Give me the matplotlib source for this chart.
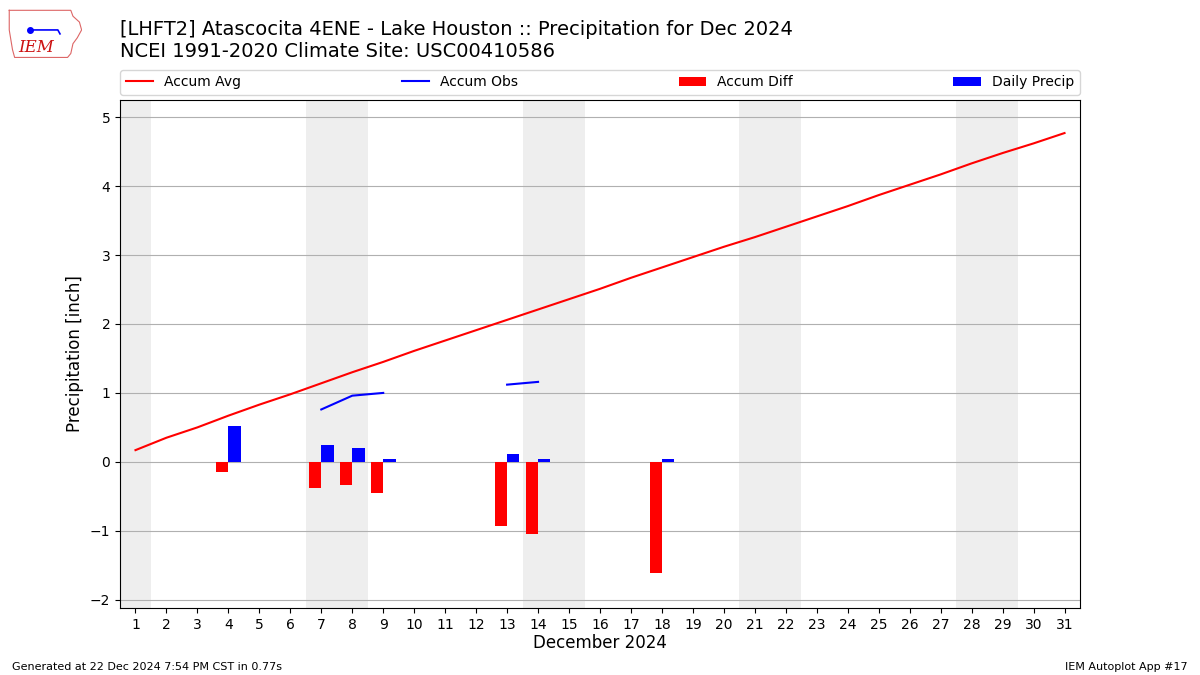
import matplotlib
matplotlib.use("Agg")
import matplotlib.pyplot as plt
import numpy as np

days = list(range(1, 32))
accum_avg = [0.17, 0.35, 0.50, 0.67, 0.83, 0.98, 1.14, 1.30, 1.45, 1.61, 1.76, 1.91,
             2.06, 2.21, 2.36, 2.51, 2.67, 2.82, 2.97, 3.12, 3.26, 3.41, 3.56, 3.71,
             3.87, 4.02, 4.17, 4.33, 4.48, 4.62, 4.77]
nan = np.nan
accum_obs = [nan, nan, nan, nan, nan, nan, 0.76, 0.96, 1.00, nan, nan, nan,
             1.12, 1.16, nan, nan, nan, nan, nan, nan, nan, nan, nan, nan,
             nan, nan, nan, nan, nan, nan, nan]
diff_days = [4, 7, 8, 9, 13, 14, 18]
accum_diff = [-0.15, -0.38, -0.34, -0.45, -0.93, -1.04, -1.61]
precip_days = [4, 7, 8, 9, 13, 14, 18]
daily_precip = [0.52, 0.25, 0.20, 0.04, 0.11, 0.04, 0.04]
weekend_spans = [(0.5, 1.5), (6.5, 8.5), (13.5, 15.5), (20.5, 22.5), (27.5, 29.5)]

fig = plt.figure(figsize=(12, 6.75), dpi=100)
ax = fig.add_axes([0.1, 0.0993, 0.8, 0.7526])

for a, b in weekend_spans:
    ax.axvspan(a, b, color="#EEEEEE", zorder=0, lw=0)

ax.bar(diff_days, accum_diff, width=-0.4, align="edge", color="r", label="Accum Diff", zorder=3)
ax.bar(precip_days, daily_precip, width=0.4, align="edge",
       color="b", label="Daily Precip", zorder=3)
ax.plot(days, accum_avg, color="r", label="Accum Avg", zorder=4)
ax.plot(days, accum_obs, color="b", label="Accum Obs", zorder=4)

ax.set_xlim(0.5, 31.5)
ax.set_ylim(-2.12, 5.25)
ax.set_xticks(days)
ax.set_yticks(range(-2, 6))
ax.grid(axis="y", color="#b0b0b0", lw=0.8, zorder=1)
ax.set_axisbelow(True)
ax.set_xlabel("December 2024", fontsize=12, labelpad=2)
ax.set_ylabel("Precipitation [inch]", fontsize=12)

handles, labels = ax.get_legend_handles_labels()
order = [labels.index(l) for l in ["Accum Avg", "Accum Obs", "Accum Diff", "Daily Precip"]]
ax.legend([handles[i] for i in order], [labels[i] for i in order], ncol=4,
          mode="expand", loc="lower left", bbox_to_anchor=(0, 1.01, 1, 0.05),
          fontsize=10, borderaxespad=0)

fig.text(0.1, 0.940, "[LHFT2] Atascocita 4ENE - Lake Houston :: Precipitation for Dec 2024\nNCEI 1991-2020 Climate Site: USC00410586",
         fontsize=14, va="center", ha="left")
fig.text(0.01, 0.005, "Generated at 22 Dec 2024 7:54 PM CST in 0.77s", fontsize=8, ha="left", va="bottom")
fig.text(0.99, 0.005, "IEM Autoplot App #17", fontsize=8, ha="right", va="bottom")

# logo approximation
lax = fig.add_axes([0.005, 0.912, 0.063, 0.08])
lax.set_xlim(0, 70)
lax.set_ylim(0, 55)
lax.axis("off")
ox = [3, 60, 62, 68, 70, 66, 62, 60, 57, 8, 6, 3, 3]
oy = [50, 50, 44, 38, 30, 22, 16, 6, 2, 2, 10, 30, 50]
lax.plot(ox, oy, color="#dd6666", lw=0.8)
lax.text(28, 12, "IEM", fontsize=12, color="#cc1111", family="DejaVu Serif",
         style="italic", ha="center", va="center")
lax.plot([22, 48, 50], [30, 30, 26], color="b", lw=1.2)
lax.plot([22], [30], "o", color="b", ms=4)

fig.savefig("out.png", dpi=100)
